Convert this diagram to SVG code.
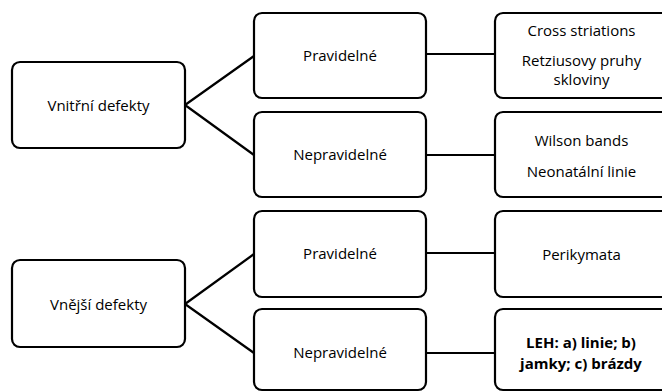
<svg xmlns="http://www.w3.org/2000/svg" width="662" height="392" viewBox="0 0 662 392">
<style>
.box{fill:#fff;stroke:#000;stroke-width:2.2}
.ln{stroke:#000;stroke-width:2.2;fill:none}
text{font-family:"Open Sans","Liberation Sans",sans-serif;font-size:15px;fill:#000;text-anchor:middle}
.b{font-weight:bold}
</style>
<rect width="662" height="392" fill="#fff"/>
<g id="connectors">
<path class="ln" d="M185,105 L254,56 M185,105 L254,155"/>
<path class="ln" d="M426,54 L495,54 M426,155 L495,155"/>
<path class="ln" d="M185,304 L254,254 M185,304 L254,353"/>
<path class="ln" d="M426,253 L495,253 M426,353 L495,353"/>
</g>
<g id="vnitrni"><rect class="box" x="12" y="62" width="173" height="86" rx="8"/><text x="98.5" y="111">Vnitřní defekty</text></g>
<g id="prav1"><rect class="box" x="254" y="13" width="172" height="85" rx="8"/><text x="340" y="61">Pravidelné</text></g>
<g id="neprav1"><rect class="box" x="254" y="112" width="172" height="85" rx="8"/><text x="340" y="160">Nepravidelné</text></g>
<g id="cross"><rect class="box" x="495" y="13" width="180" height="85" rx="8"/><text x="581.5" y="36">Cross striations</text><text x="581.5" y="66">Retziusovy pruhy</text><text x="581.5" y="85">skloviny</text></g>
<g id="wilson"><rect class="box" x="495" y="112" width="180" height="85" rx="8"/><text x="581.5" y="146">Wilson bands</text><text x="581.5" y="177">Neonatální linie</text></g>
<g id="vnejsi"><rect class="box" x="12" y="260" width="173" height="87" rx="8"/><text x="98.5" y="310">Vnější defekty</text></g>
<g id="prav2"><rect class="box" x="254" y="211" width="172" height="86" rx="8"/><text x="340" y="259">Pravidelné</text></g>
<g id="neprav2"><rect class="box" x="254" y="309" width="172" height="81" rx="8"/><text x="340" y="358">Nepravidelné</text></g>
<g id="perikymata"><rect class="box" x="495" y="211" width="180" height="86" rx="8"/><text x="581.5" y="260">Perikymata</text></g>
<g id="leh"><rect class="box" x="495" y="309" width="180" height="81" rx="8"/><text class="b" x="581" y="348">LEH: a) linie; b)</text><text class="b" x="581" y="369">jamky; c) brázdy</text></g>
</svg>
